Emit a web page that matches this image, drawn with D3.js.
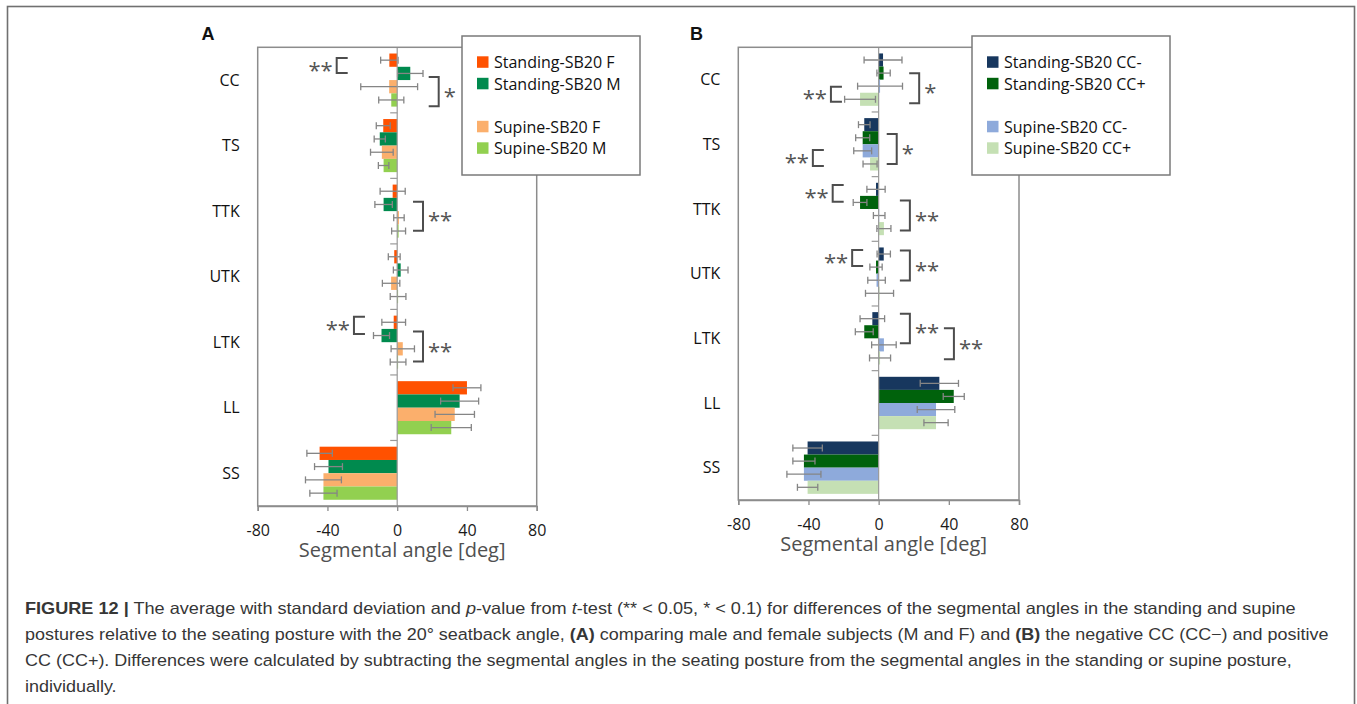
<!DOCTYPE html>
<html>
<head>
<meta charset="utf-8">
<script src="https://cdn.jsdelivr.net/npm/d3@7"></script>
<style>
  body { margin: 0; background: #fff; }
  svg { display: block; }
</style>
</head>
<body>
<svg id="fig" width="1357" height="704"></svg>
<script>
// segments, top to bottom
const categories = ["CC", "TS", "TTK", "UTK", "LTK", "LL", "SS"];
const xTicks = [-80, -40, 0, 40, 80];

// panel A: male / female
const standingF   = [-4.5, -8.0, -2.6, -1.7, -2.0, 40.0, -44.5];
const standingFsd = [5.0, 4.0, 7.2, 3.4, 6.8, 8.0, 7.3];
const standingM   = [7.5, -10.0, -7.8, 2.0, -9.0, 35.8, -39.4];
const standingMsd = [7.3, 3.2, 5.0, 4.2, 4.6, 10.9, 8.0];
const supineF     = [-4.6, -8.8, 1.0, -3.5, 3.2, 33.0, -42.3];
const supineFsd   = [16.3, 6.5, 3.0, 5.0, 6.7, 11.3, 10.3];
const supineM     = [-3.4, -7.8, 0.8, 0.5, 0.5, 31.0, -42.3];
const supineMsd   = [7.2, 3.0, 4.0, 4.5, 4.5, 11.5, 7.8];

// panel B: negative / positive CC
const standingNeg   = [2.5, -8.2, -1.5, 2.9, -3.6, 34.6, -40.5];
const standingNegSd = [10.8, 3.3, 5.2, 3.8, 7.0, 10.9, 8.4];
const standingPos   = [2.8, -9.1, -10.6, -1.5, -8.2, 42.8, -42.6];
const standingPosSd = [3.8, 4.0, 3.9, 3.5, 5.1, 6.0, 6.3];
const supineNeg     = [0.8, -9.1, 0.3, -1.2, 3.0, 32.7, -42.6];
const supineNegSd   = [12.8, 5.1, 3.3, 5.0, 7.0, 10.7, 9.7];
const supinePos     = [-10.6, -4.9, 3.0, 0.5, 0.8, 32.7, -40.5];
const supinePosSd   = [8.8, 4.0, 4.0, 8.0, 6.0, 6.9, 5.8];

// significance brackets: [segment, from slot, to slot, x in deg, side, label]
const bracketsA = [
  ["CC", 0.34, 1.47, -34.7, "left", "**"],
  ["CC", 1.77, 3.97, 23.8, "right", "*"],
  ["TTK", 1.29, 3.47, 14.8, "right", "**"],
  ["LTK", 0.08, 1.38, -24.8, "left", "**"],
  ["LTK", 1.2, 3.46, 14.8, "right", "**"]
];
const bracketsB = [
  ["CC", 1.52, 3.8, 23.1, "right", "*"],
  ["CC", 2.54, 3.68, -27.2, "left", "**"],
  ["TS", 1.21, 3.5, 10.3, "right", "*"],
  ["TS", 2.43, 3.65, -37.5, "left", "**"],
  ["TTK", 0.16, 1.44, -26.2, "left", "**"],
  ["TTK", 1.36, 3.65, 17.8, "right", "**"],
  ["UTK", 0.19, 1.41, -15.1, "left", "**"],
  ["UTK", 0.24, 2.53, 17.8, "right", "**"],
  ["LTK", 0.13, 2.37, 17.8, "right", "**"],
  ["LTK", 1.23, 3.59, 42.9, "right", "**"]
];

const svg = d3.select("#fig");
const FONT = "'Open Sans', sans-serif";

// outer frame of the figure
svg.append("rect")
  .attr("x", 7.5).attr("y", 6.5)
  .attr("width", 1347).attr("height", 730)
  .attr("fill", "none").attr("stroke", "#707070").attr("stroke-width", 1.6);

function drawPanel(p) {
  const g = svg.append("g");
  const x = d3.scaleLinear().domain([-80, 80]).range([p.left, p.right]);
  const y = d3.scaleBand().domain(categories).range([p.top, p.bottom])
    .paddingInner(0.19).paddingOuter(0.095);
  const y1 = d3.scaleBand().domain(p.series.map(s => s.name)).range([0, y.bandwidth()]);

  // bars
  p.series.forEach(s => {
    g.append("g").selectAll("rect")
      .data(categories.map((c, i) => ({ c: c, v: s.values[i] })))
      .enter().append("rect")
      .attr("x", d => x(Math.min(0, d.v)))
      .attr("y", d => y(d.c) + y1(s.name))
      .attr("width", d => Math.abs(x(d.v) - x(0)))
      .attr("height", y1.bandwidth())
      .attr("fill", s.color);
  });

  // error bars
  p.series.forEach(s => {
    const eb = g.append("g").attr("stroke", "#858585").attr("stroke-width", 1.3).attr("fill", "none");
    categories.forEach((c, i) => {
      const v = s.values[i], sd = s.sd[i];
      const cy = y(c) + y1(s.name) + y1.bandwidth() / 2;
      eb.append("line").attr("x1", x(v - sd)).attr("x2", x(v + sd)).attr("y1", cy).attr("y2", cy);
      [v - sd, v + sd].forEach(e => {
        eb.append("line").attr("x1", x(e)).attr("x2", x(e)).attr("y1", cy - 3.5).attr("y2", cy + 3.5);
      });
    });
  });

  // zero line with category ticks
  g.append("line").attr("x1", x(0)).attr("x2", x(0)).attr("y1", p.top).attr("y2", p.bottom)
    .attr("stroke", "#9a9a9a").attr("stroke-width", 1.2);
  categories.slice(1).forEach(c => {
    const ty = y(c) - y.step() * 0.19 / 2;
    g.append("line").attr("x1", x(0) - 7).attr("x2", x(0)).attr("y1", ty).attr("y2", ty)
      .attr("stroke", "#9a9a9a").attr("stroke-width", 1.2);
  });

  // plot border
  g.append("rect")
    .attr("x", p.left).attr("y", p.top)
    .attr("width", p.right - p.left).attr("height", p.bottom - p.top)
    .attr("fill", "none").attr("stroke", "#8c8c8c").attr("stroke-width", 1.5);

  // x axis
  const ax = g.append("g").attr("transform", `translate(0,${p.bottom})`)
    .call(d3.axisBottom(x).tickValues(xTicks).tickSize(5).tickPadding(14).tickFormat(d3.format("d")));
  ax.select(".domain").attr("stroke", "#8c8c8c").attr("stroke-width", 1.5);
  ax.selectAll(".tick line").attr("stroke", "#8c8c8c").attr("stroke-width", 1.3);
  ax.selectAll(".tick text").attr("font-family", FONT).attr("font-size", 16).attr("fill", "#1a1a1a")
    .text(d => d < 0 ? "-" + Math.abs(d) : d);

  g.append("text")
    .attr("x", (p.left + p.right) / 2 + 5).attr("y", p.bottom + 51)
    .attr("text-anchor", "middle")
    .attr("font-family", FONT).attr("font-size", 20).attr("fill", "#505050")
    .text("Segmental angle [deg]");

  // category labels
  g.append("g").selectAll("text").data(categories).enter().append("text")
    .attr("x", p.left - 18)
    .attr("y", d => y(d) + y.bandwidth() / 2)
    .attr("dy", "0.36em")
    .attr("text-anchor", "end")
    .attr("font-family", FONT).attr("font-size", 16).attr("fill", "#111")
    .text(d => d);

  // significance brackets
  const bg = g.append("g");
  p.brackets.forEach(b => {
    const [c, s0, s1, xv, side, lab] = b;
    const ya = y(c) + s0 * y1.step(), yb = y(c) + s1 * y1.step();
    const bx = x(xv), arm = side === "left" ? 11 : -10;
    bg.append("path")
      .attr("d", `M${bx + arm},${ya}H${bx}V${yb}H${bx + arm}`)
      .attr("fill", "none").attr("stroke", "#4d4d4d").attr("stroke-width", 2);
    bg.append("text")
      .attr("x", side === "left" ? bx - 4 : bx + 5)
      .attr("y", (ya + yb) / 2 + 12)
      .attr("text-anchor", side === "left" ? "end" : "start")
      .attr("font-family", FONT).attr("font-size", 22).attr("fill", "#555")
      .text(lab);
  });

  // legend
  const lg = g.append("g");
  lg.append("rect")
    .attr("x", p.legend.x).attr("y", p.legend.y)
    .attr("width", p.legend.w).attr("height", p.legend.h)
    .attr("fill", "#fff").attr("stroke", "#7a7a7a").attr("stroke-width", 1.5);
  const slots = [0, 1, 3, 4];
  p.series.forEach((s, i) => {
    const by = p.legend.y + 32.3 + slots[i] * 21.5;
    lg.append("rect").attr("x", p.legend.x + 15).attr("y", by - 12)
      .attr("width", 11.5).attr("height", 11.5).attr("fill", s.color);
    lg.append("text").attr("x", p.legend.x + 32).attr("y", by)
      .attr("font-family", FONT).attr("font-size", 16).attr("fill", "#111")
      .text(s.name);
  });

  // panel letter
  svg.append("text").attr("x", p.letterX).attr("y", 39.5)
    .attr("font-family", "'Liberation Sans', Arial, sans-serif")
    .attr("font-weight", "bold").attr("font-size", 18).attr("fill", "#111")
    .text(p.letter);
}

drawPanel({
  letter: "A", letterX: 201.5,
  left: 257.7, right: 536.7, top: 47.3, bottom: 506,
  legend: { x: 462, y: 36, w: 178, h: 139 },
  brackets: bracketsA,
  series: [
    { name: "Standing-SB20 F", values: standingF, sd: standingFsd, color: "#ff5100" },
    { name: "Standing-SB20 M", values: standingM, sd: standingMsd, color: "#008a4e" },
    { name: "Supine-SB20 F", values: supineF, sd: supineFsd, color: "#fbaf6c" },
    { name: "Supine-SB20 M", values: supineM, sd: supineMsd, color: "#92d050" }
  ]
});

drawPanel({
  letter: "B", letterX: 690,
  left: 738.3, right: 1019, top: 47.3, bottom: 500,
  legend: { x: 972, y: 36, w: 198, h: 139 },
  brackets: bracketsB,
  series: [
    { name: "Standing-SB20 CC-", values: standingNeg, sd: standingNegSd, color: "#17375e" },
    { name: "Standing-SB20 CC+", values: standingPos, sd: standingPosSd, color: "#00620c" },
    { name: "Supine-SB20 CC-", values: supineNeg, sd: supineNegSd, color: "#8eaadb" },
    { name: "Supine-SB20 CC+", values: supinePos, sd: supinePosSd, color: "#c5e0b4" }
  ]
});

// caption
const captionLines = [
  { y: 613.5, end: 1296, parts: [
    ["FIGURE 12 |", "b"], [" The average with standard deviation and ", ""], ["p", "i"], ["-value from ", ""],
    ["t", "i"], ["-test (** < 0.05, * < 0.1) for differences of the segmental angles in the standing and supine", ""]] },
  { y: 640, end: 1329, parts: [
    ["postures relative to the seating posture with the 20° seatback angle, ", ""], ["(A)", "b"],
    [" comparing male and female subjects (M and F) and ", ""], ["(B)", "b"],
    [" the negative CC (CC\u2212) and positive", ""]] },
  { y: 666, end: 1292, parts: [
    ["CC (CC+). Differences were calculated by subtracting the segmental angles in the seating posture from the segmental angles in the standing or supine posture,", ""]] },
  { y: 692, end: null, parts: [["individually.", ""]] }
];
const capX = 25;
let lastScale = 1;
captionLines.forEach(line => {
  const t = svg.append("text")
    .attr("x", 0).attr("y", 0)
    .attr("font-family", "'Liberation Sans', Arial, sans-serif")
    .attr("font-size", 16.5).attr("fill", "#363636");
  line.parts.forEach(([txt, st]) => {
    t.append("tspan").text(txt)
      .attr("font-weight", st === "b" ? "bold" : null)
      .attr("font-style", st === "i" ? "italic" : null);
  });
  const w = t.node().getComputedTextLength();
  const k = line.end ? (line.end - capX) / w : lastScale;
  lastScale = k;
  t.attr("transform", `translate(${capX},${line.y}) scale(${k},1)`);
});
</script>
</body>
</html>
